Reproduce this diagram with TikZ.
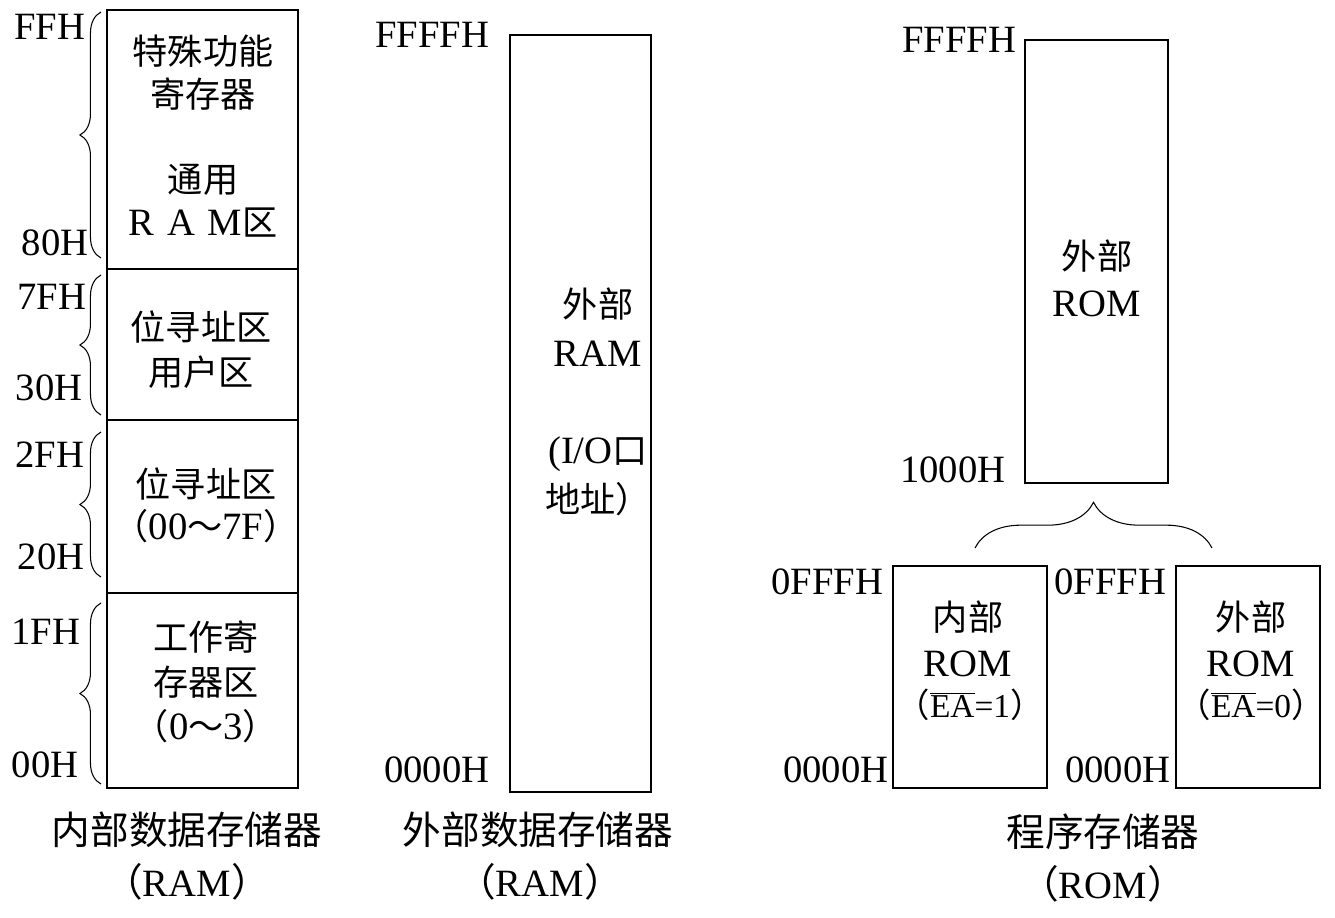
\documentclass[tikz,border=0pt]{standalone}
\usepackage{fontspec}
\setmainfont{Liberation Serif}
\newfontfamily\cjk{Noto Sans CJK SC}
\def\zhsz{}
\newcommand\zh[1]{{\cjk\zhsz #1}}
\usetikzlibrary{decorations.pathreplacing}

\begin{document}
\begin{tikzpicture}[x=0.02cm,y=-0.02cm,line width=.8pt,
  addr/.style={anchor=east,inner sep=0pt,font=\fontsize{22}{26}\selectfont},
  lbl/.style={align=center,inner sep=0pt,
    font=\fontsize{22}{#1}\selectfont\def\zhsz{\fontsize{20}{#1}\selectfont}},
  lbl/.default=24.5,
  small/.style={inner sep=0pt,font=\fontsize{19}{22}\selectfont},
  capt/.style={inner sep=0pt,font=\fontsize{22}{26}\selectfont},
  brc/.style={decorate,decoration={brace,amplitude=#1},line width=.6pt}]
\useasboundingbox (0,0) rectangle (1335,917);
% internal data memory
\draw (107,10) rectangle (298,788);
\foreach \y in {269,420,593}
\draw (107,\y) -- (298,\y);
\foreach \a/\b in {258/12,415/275,577/432,784/603}
\draw[brc=12] (101,\a) -- (101,\b);
\node[addr] (iffh) at (86,27) {FFH};
\node[addr] (i80h) at (89,243) {80H};
\node[addr] (i7fh) at (87,297) {7FH};
\node[addr] (i30h) at (83,388) {30H};
\node[addr] (i2fh) at (85,455) {2FH};
\node[addr] (i20h) at (85,557) {20H};
\node[addr] (i1fh) at (81,632) {1FH};
\node[addr] (i00h) at (79,765) {00H};
\node[lbl=24.4] (sfr) at (203,136) {\zh{特殊功能}\\\zh{寄存器}\\\mbox{}\\\zh{通用}\\R\,\,A\,\,M\zh{区}};
\node[lbl=25.5] (user) at (201,350) {\zh{位寻址区}\\\zh{用户区}};
\node[lbl=24] (bit) at (206,505) {\zh{位寻址区}\\\zh{（}00\zh{～}7F\zh{）}};
\node[lbl=25.5] (work) at (206,682) {\zh{工作寄}\\\zh{存器区}\\\zh{（}0\zh{～}3\zh{）}};
\node[capt] (icap) at (187,830) {\zh{内部数据存储器}};
\node[capt] (iram) at (187,882) {\zh{（}RAM\zh{）}};
% external data memory
\draw (510,35) rectangle (651,792);
\node[addr] (xffff) at (490,35) {FFFFH};
\node[addr] (x0000) at (490,770) {0000H};
\node[lbl=27.8] (xram) at (598,402) {\zh{外部}\\RAM\\\mbox{}\\(I/O\zh{口}\\\zh{地址）}};
\node[capt] (xcap) at (538,830) {\zh{外部数据存储器}};
\node[capt] (xrm) at (540,882) {\zh{（}RAM\zh{）}};
% program memory
\draw (1025,40) rectangle (1168,483);
\draw (893,566) rectangle (1047,788);
\draw (1176,566) rectangle (1320,788);
\draw[brc=26] (975,548) -- (1212,548);
\node[addr] (pffff) at (1017,40) {FFFFH};
\node[addr] (p1000) at (1006,470) {1000H};
\node[addr] (pfffa) at (884,582) {0FFFH};
\node[addr] (p000a) at (889,770) {0000H};
\node[addr] (pfffb) at (1167,582) {0FFFH};
\node[addr] (p000b) at (1171,770) {0000H};
\node[lbl=26.6] (xrom) at (1097,278) {\zh{外部}\\ROM};
\node[lbl=26] (irom) at (968,639) {\zh{内部}\\ROM};
\node[small] (ea1) at (970,705) {\zh{（}$\overline{\mbox{EA}}$=1\zh{）}};
\node[lbl=26] (erom) at (1251,639) {\zh{外部}\\ROM};
\node[small] (ea0) at (1251,705) {\zh{（}$\overline{\mbox{EA}}$=0\zh{）}};
\node[capt] (pcap) at (1103,832) {\zh{程序存储器}};
\node[capt] (prom) at (1103,884) {\zh{（}ROM\zh{）}};
\end{tikzpicture}
\end{document}
